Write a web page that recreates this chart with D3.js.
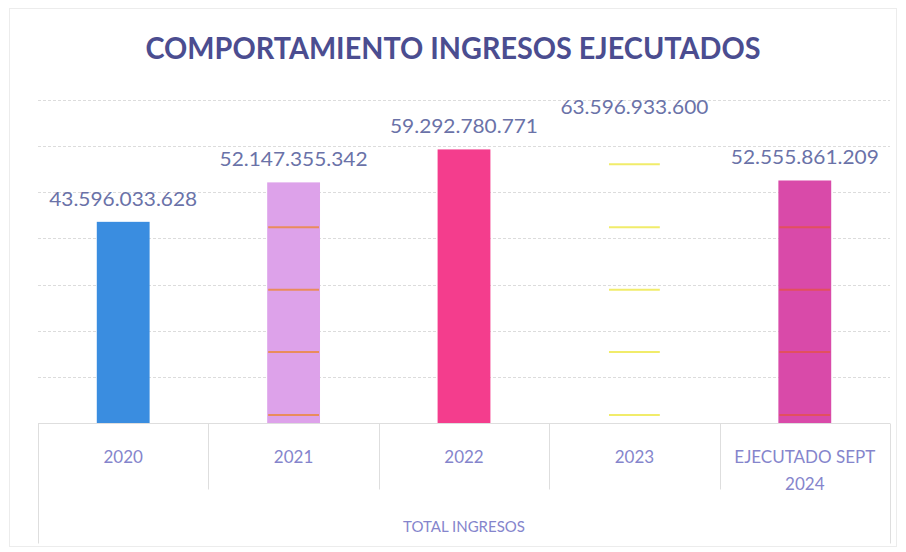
<!DOCTYPE html>
<html>
<head>
<meta charset="utf-8">
<script src="https://cdn.jsdelivr.net/npm/d3@7"></script>
<style>
  body { margin: 0; background: #fff; }
  svg { display: block; }
</style>
</head>
<body>
<div id="chart"></div>
<script>
// data
const categories = ['2020', '2021', '2022', '2023', 'EJECUTADO SEPT 2024'];
const categoryLines = [['2020'], ['2021'], ['2022'], ['2023'], ['EJECUTADO SEPT', '2024']];
const values = [43596033628, 52147355342, 59292780771, 63596933600, 52555861209];
const valueLabels = ['43.596.033.628', '52.147.355.342', '59.292.780.771', '63.596.933.600', '52.555.861.209'];
const gridTicks = [0, 10e9, 20e9, 30e9, 40e9, 50e9, 60e9, 70e9];
// scan shows horizontal stripes across some bars
const stripeValues = [1.75e9, 15.4e9, 28.9e9, 42.4e9, 56.1e9];
const groupLabel = 'TOTAL INGRESOS';
const title = 'COMPORTAMIENTO INGRESOS EJECUTADOS';

const fills = ['#3a8de0', '#dda2ea', '#f43d8d', 'none', '#d94aa9'];
const stripeColors = [null, '#e98c5c', null, '#f1ec6a', '#e2505e'];

const width = 906, height = 552;
const margin = { left: 38, right: 16, top: 100, bottom: 129 };

const svg = d3.select('#chart').append('svg')
    .attr('width', width)
    .attr('height', height);

// faint outer border of the chart area
svg.append('rect')
    .attr('x', 9.5).attr('y', 8.5)
    .attr('width', width - 19).attr('height', height - 14)
    .attr('fill', 'none')
    .attr('stroke', '#ececec');

const x = d3.scaleBand()
    .domain(categories)
    .range([margin.left, width - margin.right])
    .paddingInner(0.69)
    .paddingOuter(0.345);

const y = d3.scaleLinear()
    .domain([0, 70e9])
    .range([height - margin.bottom, margin.top]);

// gridlines
svg.append('g')
    .selectAll('line')
    .data(gridTicks.slice(1))
    .join('line')
      .attr('x1', margin.left)
      .attr('x2', width - margin.right)
      .attr('y1', d => Math.round(y(d)) + 0.5)
      .attr('y2', d => Math.round(y(d)) + 0.5)
      .attr('stroke', '#dcdcdc')
      .attr('stroke-dasharray', '3,2');

// title
svg.append('text')
    .attr('x', width / 2)
    .attr('y', 59)
    .attr('text-anchor', 'middle')
    .attr('font-family', 'Lato, "Open Sans", sans-serif')
    .attr('font-weight', 700)
    .attr('font-size', '30px')
    .attr('fill', '#4b4d90')
    .attr('textLength', 615)
    .attr('lengthAdjust', 'spacingAndGlyphs')
    .text(title);

// bars
const bars = svg.append('g')
    .selectAll('g')
    .data(categories)
    .join('g');

bars.append('rect')
    .attr('x', d => x(d))
    .attr('y', (d, i) => y(values[i]))
    .attr('width', x.bandwidth())
    .attr('height', (d, i) => y(0) - y(values[i]))
    .attr('fill', (d, i) => fills[i]);

bars.each(function (d, i) {
    if (!stripeColors[i]) return;
    d3.select(this).selectAll('line.stripe')
        .data(stripeValues.filter(v => v < values[i]))
        .join('line')
          .classed('stripe', true)
          .attr('x1', x(d) + 1)
          .attr('x2', x(d) + x.bandwidth() - 1)
          .attr('y1', v => y(v))
          .attr('y2', v => y(v))
          .attr('stroke', stripeColors[i])
          .attr('stroke-width', 2);
});

// value labels
bars.append('text')
    .attr('x', d => x(d) + x.bandwidth() / 2)
    .attr('y', (d, i) => y(values[i]) - 16)
    .attr('text-anchor', 'middle')
    .attr('font-family', 'Lato, "Open Sans", sans-serif')
    .attr('font-size', '19px')
    .attr('fill', '#6a72a8')
    .attr('textLength', 148)
    .attr('lengthAdjust', 'spacingAndGlyphs')
    .text((d, i) => valueLabels[i]);

// multi-level category axis
const axis = svg.append('g').attr('stroke', '#dedede').attr('fill', 'none');
const base = Math.round(y(0)) + 0.5;
axis.append('line')
    .attr('x1', margin.left).attr('x2', width - margin.right)
    .attr('y1', base).attr('y2', base);

const step = x.step();
const bounds = categories.map(c => x(c) + x.bandwidth() / 2 - step / 2);
bounds.push(bounds[bounds.length - 1] + step);
axis.selectAll('line.sep')
    .data(bounds)
    .join('line')
      .classed('sep', true)
      .attr('x1', d => Math.round(d) + 0.5)
      .attr('x2', d => Math.round(d) + 0.5)
      .attr('y1', base)
      .attr('y2', (d, i) => (i === 0 || i === bounds.length - 1) ? base + 120 : base + 66);

const catLabels = svg.append('g')
    .selectAll('text')
    .data(categories)
    .join('text')
      .attr('x', d => x(d) + x.bandwidth() / 2)
      .attr('y', base + 39)
      .attr('text-anchor', 'middle')
      .attr('font-family', 'Lato, "Open Sans", sans-serif')
      .attr('font-size', '17px')
      .attr('fill', '#8585cc');

catLabels.selectAll('tspan')
    .data((d, i) => categoryLines[i])
    .join('tspan')
      .attr('x', function () { return d3.select(this.parentNode).attr('x'); })
      .attr('dy', (d, i) => i === 0 ? 0 : 27)
      .text(d => d);

svg.append('text')
    .attr('x', (margin.left + width - margin.right) / 2)
    .attr('y', base + 108)
    .attr('text-anchor', 'middle')
    .attr('font-family', 'Lato, "Open Sans", sans-serif')
    .attr('font-size', '15px')
    .attr('fill', '#8585cc')
    .text(groupLabel);
</script>
</body>
</html>
